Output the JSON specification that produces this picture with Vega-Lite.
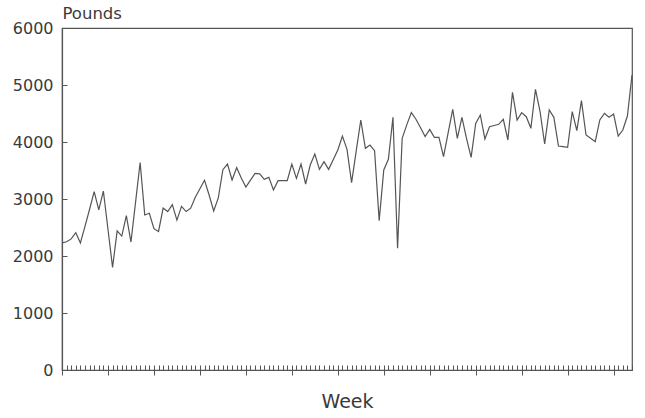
{
  "$schema": "https://vega.github.io/schema/vega-lite/v6.json",
  "width": 570,
  "height": 342,
  "autosize": {"type": "none"},
  "padding": {"left": 62, "top": 28, "right": 13, "bottom": 48},
  "background": "#ffffff",
  "config": {
    "view": {"stroke": "#555555", "strokeWidth": 1.2},
    "font": "DejaVu Sans",
    "axis": {"domainColor": "#555555", "tickColor": "#555555", "labelColor": "#3a3a3a", "titleColor": "#3a3a3a", "grid": false, "domainWidth": 1.2, "tickWidth": 1}
  },
  "data": {"values": [
    {"week":0,"pounds":2230},{"week":1,"pounds":2250},{"week":2,"pounds":2300},{"week":3,"pounds":2410},{"week":4,"pounds":2230},
    {"week":5,"pounds":2520},{"week":6,"pounds":2820},{"week":7,"pounds":3130},{"week":8,"pounds":2810},{"week":9,"pounds":3140},
    {"week":10,"pounds":2470},{"week":11,"pounds":1800},{"week":12,"pounds":2440},{"week":13,"pounds":2350},{"week":14,"pounds":2710},
    {"week":15,"pounds":2245},{"week":16,"pounds":2940},{"week":17,"pounds":3640},{"week":18,"pounds":2720},{"week":19,"pounds":2750},
    {"week":20,"pounds":2480},{"week":21,"pounds":2430},{"week":22,"pounds":2840},{"week":23,"pounds":2780},{"week":24,"pounds":2900},
    {"week":25,"pounds":2630},{"week":26,"pounds":2870},{"week":27,"pounds":2780},{"week":28,"pounds":2840},{"week":29,"pounds":3030},
    {"week":30,"pounds":3180},{"week":31,"pounds":3330},{"week":32,"pounds":3070},{"week":33,"pounds":2790},{"week":34,"pounds":3020},
    {"week":35,"pounds":3515},{"week":36,"pounds":3614},{"week":37,"pounds":3333},{"week":38,"pounds":3550},{"week":39,"pounds":3370},
    {"week":40,"pounds":3210},{"week":41,"pounds":3330},{"week":42,"pounds":3450},{"week":43,"pounds":3440},{"week":44,"pounds":3345},
    {"week":45,"pounds":3380},{"week":46,"pounds":3158},{"week":47,"pounds":3322},{"week":48,"pounds":3322},{"week":49,"pounds":3322},
    {"week":50,"pounds":3614},{"week":51,"pounds":3363},{"week":52,"pounds":3614},{"week":53,"pounds":3263},{"week":54,"pounds":3596},
    {"week":55,"pounds":3789},{"week":56,"pounds":3520},{"week":57,"pounds":3655},{"week":58,"pounds":3520},{"week":59,"pounds":3690},
    {"week":60,"pounds":3860},{"week":61,"pounds":4105},{"week":62,"pounds":3871},{"week":63,"pounds":3287},{"week":64,"pounds":3840},
    {"week":65,"pounds":4386},{"week":66,"pounds":3889},{"week":67,"pounds":3947},{"week":68,"pounds":3848},{"week":69,"pounds":2620},
    {"week":70,"pounds":3509},{"week":71,"pounds":3696},{"week":72,"pounds":4433},{"week":73,"pounds":2135},{"week":74,"pounds":4064},
    {"week":75,"pounds":4300},{"week":76,"pounds":4515},{"week":77,"pounds":4400},{"week":78,"pounds":4250},{"week":79,"pounds":4094},
    {"week":80,"pounds":4222},{"week":81,"pounds":4082},{"week":82,"pounds":4082},{"week":83,"pounds":3743},{"week":84,"pounds":4160},
    {"week":85,"pounds":4573},{"week":86,"pounds":4064},{"week":87,"pounds":4433},{"week":88,"pounds":4064},{"week":89,"pounds":3731},
    {"week":90,"pounds":4327},{"week":91,"pounds":4474},{"week":92,"pounds":4053},{"week":93,"pounds":4269},{"week":94,"pounds":4290},
    {"week":95,"pounds":4310},{"week":96,"pounds":4398},{"week":97,"pounds":4035},{"week":98,"pounds":4871},{"week":99,"pounds":4386},
    {"week":100,"pounds":4515},{"week":101,"pounds":4444},{"week":102,"pounds":4240},{"week":103,"pounds":4924},{"week":104,"pounds":4532},
    {"week":105,"pounds":3965},{"week":106,"pounds":4561},{"week":107,"pounds":4433},{"week":108,"pounds":3930},{"week":109,"pounds":3918},
    {"week":110,"pounds":3907},{"week":111,"pounds":4532},{"week":112,"pounds":4199},{"week":113,"pounds":4725},{"week":114,"pounds":4123},
    {"week":115,"pounds":4065},{"week":116,"pounds":4006},{"week":117,"pounds":4386},{"week":118,"pounds":4503},{"week":119,"pounds":4433},
    {"week":120,"pounds":4491},{"week":121,"pounds":4105},{"week":122,"pounds":4210},{"week":123,"pounds":4456},{"week":124,"pounds":5175}
  ]},
  "resolve": {"axis": {"x": "independent"}},
  "layer": [
    {
      "mark": {"type": "line", "color": "#555555", "strokeWidth": 1.2},
      "encoding": {
        "x": {"field": "week", "type": "quantitative", "scale": {"domain": [0, 124], "nice": false, "zero": false},
              "axis": {"orient": "bottom", "tickCount": 124, "tickSize": -5, "labels": false, "title": "Week", "titleFontSize": 19, "titleFontWeight": "normal", "titleY": 37, "titleBaseline": "alphabetic"}},
        "y": {"field": "pounds", "type": "quantitative", "scale": {"domain": [0, 6000], "nice": false},
              "axis": {"values": [0,1000,2000,3000,4000,5000,6000], "format": "d", "tickSize": -5, "labelPadding": 14, "labelFontSize": 16, "title": "Pounds", "titleAngle": 0, "titleX": 0, "titleY": -10, "titleAlign": "left", "titleBaseline": "alphabetic", "titleFontSize": 16.5, "titleFontWeight": "normal"}}
      }
    },
    {
      "mark": {"type": "point", "opacity": 0},
      "encoding": {
        "x": {"field": "week", "type": "quantitative",
              "axis": {"orient": "bottom", "values": [0,10,20,30,40,50,60,70,80,90,100,110,120], "tickSize": 5, "labels": false, "domain": false, "title": null}}
      }
    }
  ]
}
